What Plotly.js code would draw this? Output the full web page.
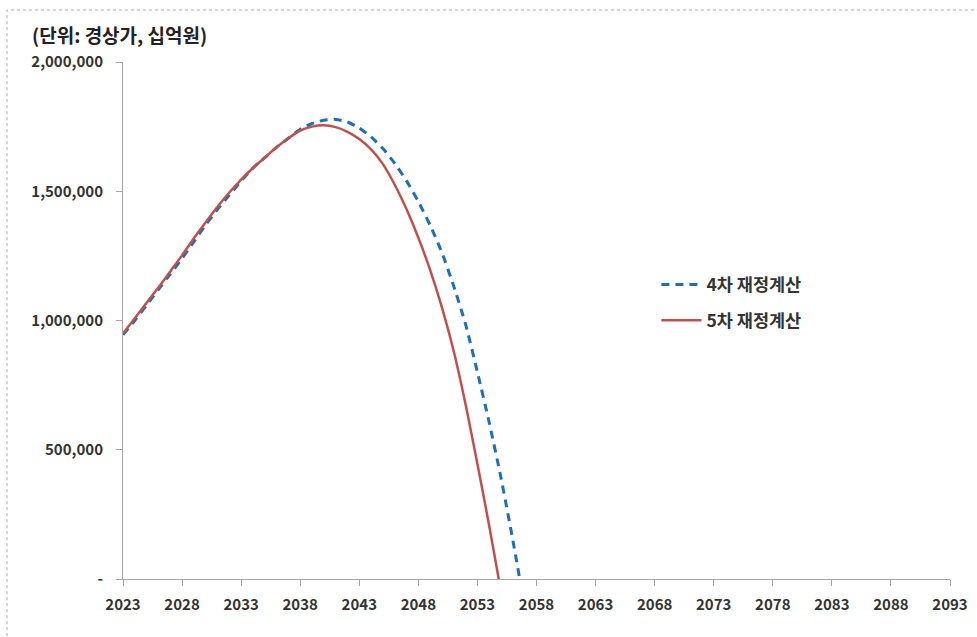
<!DOCTYPE html>
<html>
<head>
<meta charset="utf-8">
<script src="https://cdn.plot.ly/plotly-3.0.1.min.js"></script>
<style>
html,body{margin:0;padding:0;background:#fff;}
#chart{width:977px;height:637px;}
</style>
</head>
<body>
<div id="chart"></div>
<script>
const years4 = [2023,2024,2025,2026,2027,2028,2029,2030,2031,2032,2033,2034,2035,2036,2037,2038,2039,2040,2041,2042,2043,2044,2045,2046,2047,2048,2049,2050,2051,2052,2053,2054,2055,2056,2057];
const fund4 = [945000,1000000,1060000,1120000,1180000,1240000,1305000,1370000,1430000,1485000,1540000,1590000,1630000,1670000,1705000,1740000,1762000,1775000,1778000,1768000,1745000,1710000,1665000,1608000,1540000,1460000,1368000,1262000,1132000,985000,800000,605000,390000,150000,-110000];
const years5 = [2023,2024,2025,2026,2027,2028,2029,2030,2031,2032,2033,2034,2035,2036,2037,2038,2039,2040,2041,2042,2043,2044,2045,2046,2047,2048,2049,2050,2051,2052,2053,2054,2055];
const fund5 = [950000,1009000,1069000,1128000,1190000,1252000,1318000,1380000,1440000,1495000,1545000,1590000,1630000,1670000,1705000,1735000,1750000,1755000,1748000,1730000,1702000,1662000,1605000,1525000,1430000,1320000,1195000,1050000,880000,675000,445000,205000,-50000];
const xTicks = [2023,2028,2033,2038,2043,2048,2053,2058,2063,2068,2073,2078,2083,2088,2093];
const yTicks = [0,500000,1000000,1500000,2000000];
const yTickText = ['-','500,000','1,000,000','1,500,000','2,000,000'];
const seriesNames = ['4차 재정계산','5차 재정계산'];
const unitLabel = '(단위: 경상가, 십억원)';

const fontFam = '"Noto Sans CJK KR", "Noto Sans", sans-serif';

const traces = [
  {x: years4, y: fund4, name: seriesNames[0], legendgroup: 'g4', type: 'scatter', mode: 'lines',
   line: {color: '#1f6fb5', width: 3, dash: '8px,6px', shape: 'spline', smoothing: 0.6}},
  {x: years5, y: fund5, name: seriesNames[1], legendgroup: 'g5', type: 'scatter', mode: 'lines',
   line: {color: '#c0504d', width: 2.5, shape: 'spline', smoothing: 0.6}}
];

const layout = {
  width: 977, height: 637,
  margin: {l: 123, r: 27, t: 62, b: 57.5, pad: 0},
  paper_bgcolor: '#ffffff', plot_bgcolor: '#ffffff',
  font: {family: fontFam, color: '#333333', size: 13},
  showlegend: true,
  legend: {x: 0.645, y: 0.604, xanchor: 'left', yanchor: 'top',
           bgcolor: 'rgba(0,0,0,0)', font: {size: 17.5, color: '#333333', family: fontFam, weight: 'bold'},
           tracegroupgap: 10, itemwidth: 40},
  xaxis: {range: [2023, 2093], tickvals: xTicks, ticktext: xTicks.map(String),
          showgrid: false, zeroline: false, showline: true, linecolor: '#a6a6a6', linewidth: 1,
          ticks: 'outside', ticklen: 6, tickcolor: '#a6a6a6', ticklabelstandoff: 6,
          tickfont: {size: 15, color: '#333333', family: fontFam, weight: 'bold'}, fixedrange: true},
  yaxis: {range: [0, 2000000], tickvals: yTicks, ticktext: yTickText,
          showgrid: false, zeroline: false, showline: true, linecolor: '#a6a6a6', linewidth: 1,
          ticks: 'outside', ticklen: 6, tickcolor: '#a6a6a6', ticklabelstandoff: 10,
          tickfont: {size: 15, color: '#333333', family: fontFam, weight: 'bold'}, fixedrange: true},
  annotations: [
    {text: unitLabel, xref: 'paper', yref: 'paper', x: -0.113, y: 1.054, xanchor: 'left', yanchor: 'middle',
     showarrow: false, font: {size: 19, color: '#222222', family: fontFam, weight: 'bold'}}
  ],
  shapes: [
    {type: 'rect', xref: 'paper', yref: 'paper', x0: -0.1403, x1: 1.2, y0: -0.3, y1: 1.1005,
     line: {color: '#aaaaaa', width: 1, dash: 'dot'}, fillcolor: 'rgba(0,0,0,0)', layer: 'below'}
  ]
};

Plotly.newPlot('chart', traces, layout, {displayModeBar: false, staticPlot: true});
</script>
</body>
</html>
